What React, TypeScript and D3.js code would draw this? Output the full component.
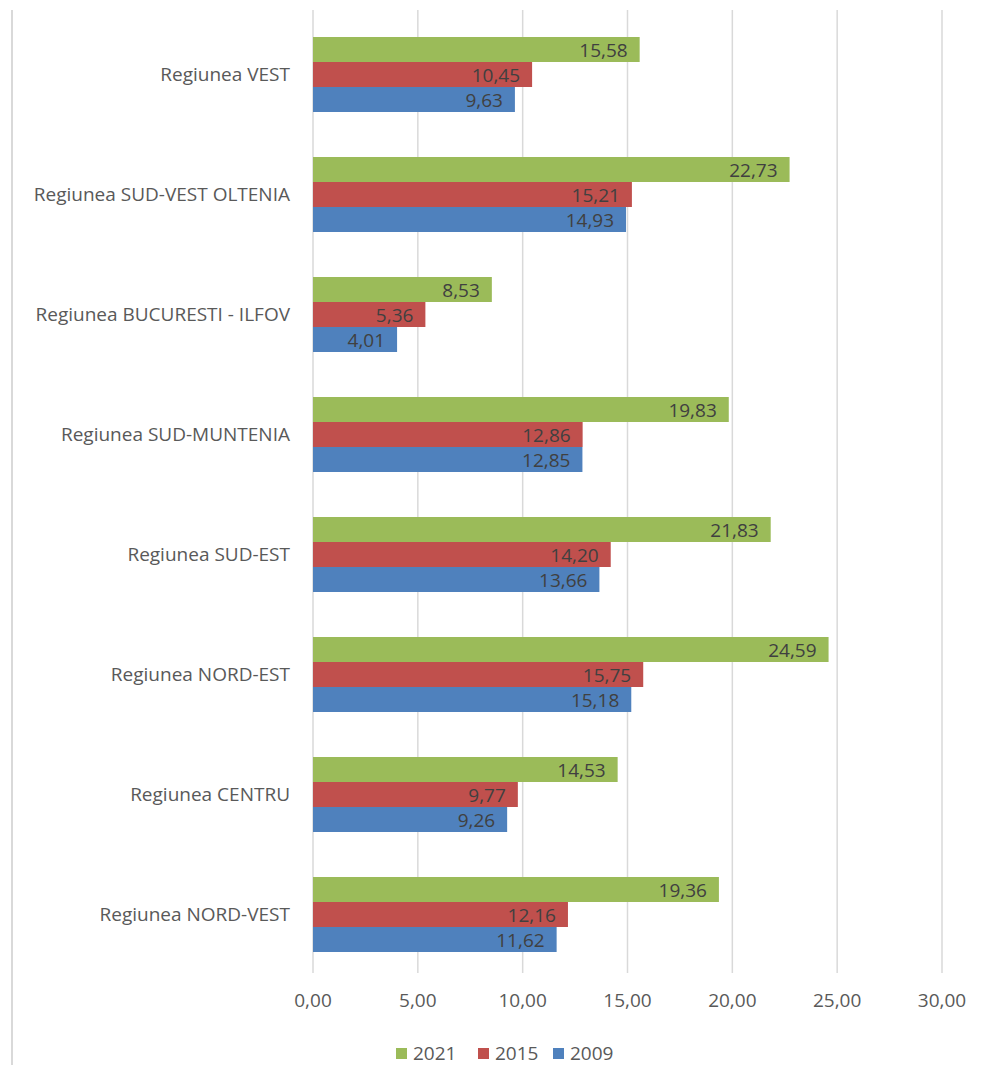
import React from "react";
import * as d3 from "d3";

const categories = [
  "Regiunea VEST",
  "Regiunea SUD-VEST OLTENIA",
  "Regiunea BUCURESTI - ILFOV",
  "Regiunea SUD-MUNTENIA",
  "Regiunea SUD-EST",
  "Regiunea NORD-EST",
  "Regiunea CENTRU",
  "Regiunea NORD-VEST",
];
const seriesNames = ["2021", "2015", "2009"];
const values2021 = [15.58, 22.73, 8.53, 19.83, 21.83, 24.59, 14.53, 19.36];
const values2015 = [10.45, 15.21, 5.36, 12.86, 14.2, 15.75, 9.77, 12.16];
const values2009 = [9.63, 14.93, 4.01, 12.85, 13.66, 15.18, 9.26, 11.62];
const xTicks = [0, 5, 10, 15, 20, 25, 30];
const colors = ["#9BBB59", "#C0504D", "#4F81BD"];

const W = 984;
const H = 1065;
const fmt = (v: number) => v.toFixed(2).replace(".", ",");

export default function App() {
  const series = [values2021, values2015, values2009];
  const x = d3.scaleLinear().domain([0, 30]).range([313, 942]);
  const y = d3
    .scaleBand()
    .domain(categories)
    .range([14.5, 974.5])
    .paddingInner(0.375)
    .paddingOuter(0.1875);
  const inner = d3.scaleBand().domain(seriesNames).range([0, y.bandwidth()]);
  const font = "'Open Sans', 'Noto Sans', sans-serif";
  const legendX = [396, 478, 553];
  const fs = 19;
  return (
    <svg width={W} height={H} style={{ position: "absolute", left: 0, top: 0, fontFamily: font }}>
      <rect x={0} y={0} width={W} height={H} fill="#fff" />
      <line x1={12} x2={12} y1={10} y2={H} stroke="#D9D9D9" strokeWidth={2} />
      {xTicks.map((t) => (
        <g key={t}>
          <line x1={x(t)} x2={x(t)} y1={10} y2={973} stroke="#D9D9D9" strokeWidth={1.5} />
          <text x={x(t)} y={1007} textAnchor="middle" fontSize={fs} fill="#595959">
            {fmt(t)}
          </text>
        </g>
      ))}
      {categories.map((c, i) => (
        <g key={c}>
          <text
            x={290}
            y={(y(c) as number) + y.bandwidth() / 2 + 6}
            textAnchor="end"
            fontSize={fs}
            fill="#595959"
          >
            {c}
          </text>
          {series.map((vals, s) => {
            const yy = (y(c) as number) + (inner(seriesNames[s]) as number);
            return (
              <g key={s}>
                <rect x={x(0)} y={yy} width={x(vals[i]) - x(0)} height={inner.bandwidth()} fill={colors[s]} />
                <text
                  x={x(vals[i]) - 12}
                  y={yy + inner.bandwidth() / 2 + 7}
                  textAnchor="end"
                  fontSize={fs}
                  fill="#404040"
                >
                  {fmt(vals[i])}
                </text>
              </g>
            );
          })}
        </g>
      ))}
      {seriesNames.map((n, s) => (
        <g key={n}>
          <rect x={legendX[s]} y={1048} width={11} height={11} fill={colors[s]} />
          <text x={legendX[s] + 17} y={1060} fontSize={fs} fill="#595959">
            {n}
          </text>
        </g>
      ))}
    </svg>
  );
}
